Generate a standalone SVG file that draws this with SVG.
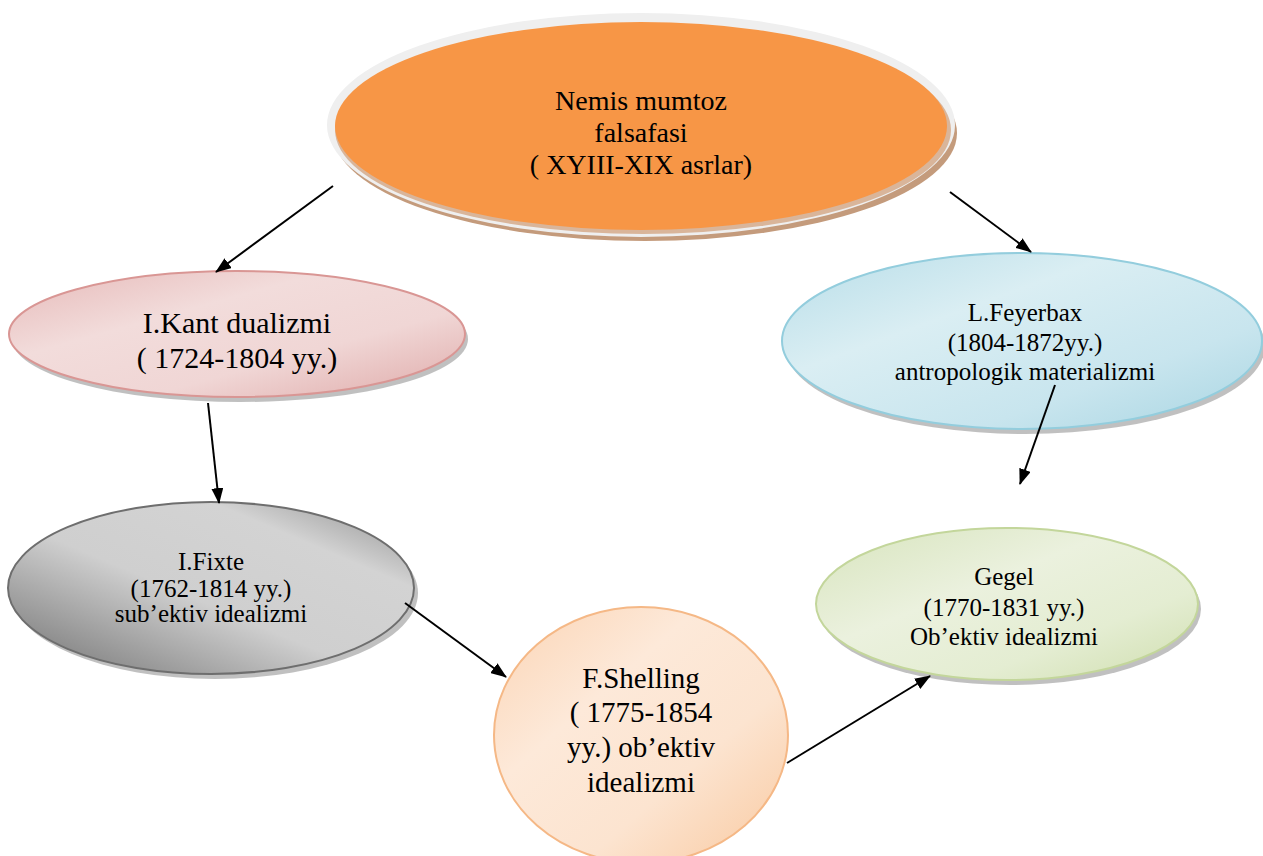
<svg xmlns="http://www.w3.org/2000/svg" width="1263" height="856" viewBox="0 0 1263 856">
<style>
text{font-family:"Liberation Serif","Times New Roman",serif;fill:#000;text-anchor:middle}
.conn line{stroke:#000;stroke-width:2;marker-end:url(#ah)}
.shadow{fill:#8c8c8c;opacity:0.55}
</style>
<defs>
<marker id="ah" markerUnits="userSpaceOnUse" markerWidth="16" markerHeight="12" refX="15" refY="6" orient="auto">
<path d="M0,0 L16,6 L0,12 z" fill="#000"/>
</marker>
<linearGradient id="gKant" x1="0" y1="0" x2="1" y2="1">
<stop offset="0" stop-color="#e6b9b8"/><stop offset="0.35" stop-color="#f2dcdb"/><stop offset="0.65" stop-color="#f0d6d5"/><stop offset="1" stop-color="#dfaaa9"/>
</linearGradient>
<linearGradient id="gFey" x1="0" y1="0" x2="1" y2="1">
<stop offset="0" stop-color="#b7dde8"/><stop offset="0.35" stop-color="#daeef3"/><stop offset="0.7" stop-color="#c8e5ee"/><stop offset="1" stop-color="#a8d5e2"/>
</linearGradient>
<linearGradient id="gFix" x1="0" y1="1" x2="1" y2="0">
<stop offset="0" stop-color="#6f6f6f"/><stop offset="0.45" stop-color="#cfcfcf"/><stop offset="0.75" stop-color="#d3d3d3"/><stop offset="1" stop-color="#8a8a8a"/>
</linearGradient>
<linearGradient id="gShel" x1="0" y1="0" x2="1" y2="1">
<stop offset="0" stop-color="#fbd4b4"/><stop offset="0.35" stop-color="#fde9d9"/><stop offset="0.65" stop-color="#fce4d0"/><stop offset="1" stop-color="#f9c9a0"/>
</linearGradient>
<linearGradient id="gGeg" x1="0" y1="0" x2="1" y2="1">
<stop offset="0" stop-color="#d7e4bd"/><stop offset="0.4" stop-color="#ebf1de"/><stop offset="0.7" stop-color="#e4edd2"/><stop offset="1" stop-color="#cfdeae"/>
</linearGradient>
</defs>
<rect width="1263" height="856" fill="#fff"/>

<g id="node-top">
<ellipse cx="645" cy="133" rx="312" ry="108" fill="#c49b7c"/>
<ellipse cx="641" cy="125" rx="314" ry="112" fill="#efefef"/>
<ellipse cx="643" cy="130" rx="308" ry="104" fill="#d9b59a"/>
<ellipse cx="641" cy="126" rx="306" ry="104" fill="#f79646"/>
<text font-size="28"><tspan x="641" y="110">Nemis mumtoz</tspan><tspan x="641" y="142">falsafasi</tspan><tspan x="641" y="174">( XYIII-XIX asrlar)</tspan></text>
</g>

<g id="node-kant">
<ellipse class="shadow" cx="240" cy="339" rx="228" ry="63"/>
<ellipse cx="237" cy="334" rx="228" ry="63" fill="url(#gKant)" stroke="#d99694" stroke-width="2"/>
<text font-size="30"><tspan x="237" y="333">I.Kant dualizmi</tspan><tspan x="237" y="368">( 1724-1804 yy.)</tspan></text>
</g>

<g id="node-feyerbax">
<ellipse class="shadow" cx="1025" cy="346" rx="240" ry="88"/>
<ellipse cx="1022" cy="341" rx="240" ry="88" fill="url(#gFey)" stroke="#93cddd" stroke-width="2"/>
<text font-size="25"><tspan x="1025" y="321">L.Feyerbax</tspan><tspan x="1025" y="351">(1804-1872yy.)</tspan><tspan x="1025" y="380">antropologik materializmi</tspan></text>
</g>

<g id="node-fixte">
<ellipse class="shadow" cx="215" cy="593" rx="203" ry="86"/>
<ellipse cx="211" cy="588" rx="203" ry="86" fill="url(#gFix)" stroke="#6e6e6e" stroke-width="2"/>
<text font-size="25"><tspan x="211" y="570">I.Fixte</tspan><tspan x="211" y="597">(1762-1814 yy.)</tspan><tspan x="211" y="622">sub’ektiv idealizmi</tspan></text>
</g>

<g id="node-shelling">
<ellipse cx="641" cy="735" rx="147" ry="128" fill="url(#gShel)" stroke="#f5b886" stroke-width="2"/>
<text font-size="29"><tspan x="641" y="688">F.Shelling</tspan><tspan x="641" y="722">( 1775-1854</tspan><tspan x="641" y="757">yy.) ob’ektiv</tspan><tspan x="641" y="792">idealizmi</tspan></text>
</g>

<g id="node-gegel">
<ellipse class="shadow" cx="1010" cy="609" rx="191" ry="76"/>
<ellipse cx="1007" cy="604" rx="191" ry="76" fill="url(#gGeg)" stroke="#c3d69b" stroke-width="2"/>
<text font-size="25"><tspan x="1004" y="585">Gegel</tspan><tspan x="1004" y="616">(1770-1831 yy.)</tspan><tspan x="1004" y="645">Ob’ektiv idealizmi</tspan></text>
</g>

<g id="connectors" class="conn">
<line x1="333" y1="186" x2="216" y2="272"/>
<line x1="950" y1="192" x2="1031" y2="252"/>
<line x1="208" y1="403" x2="219" y2="503"/>
<line x1="1055" y1="385" x2="1020" y2="484"/>
<line x1="405" y1="603" x2="506" y2="677"/>
<line x1="787" y1="763" x2="930" y2="676"/>
</g>
</svg>
